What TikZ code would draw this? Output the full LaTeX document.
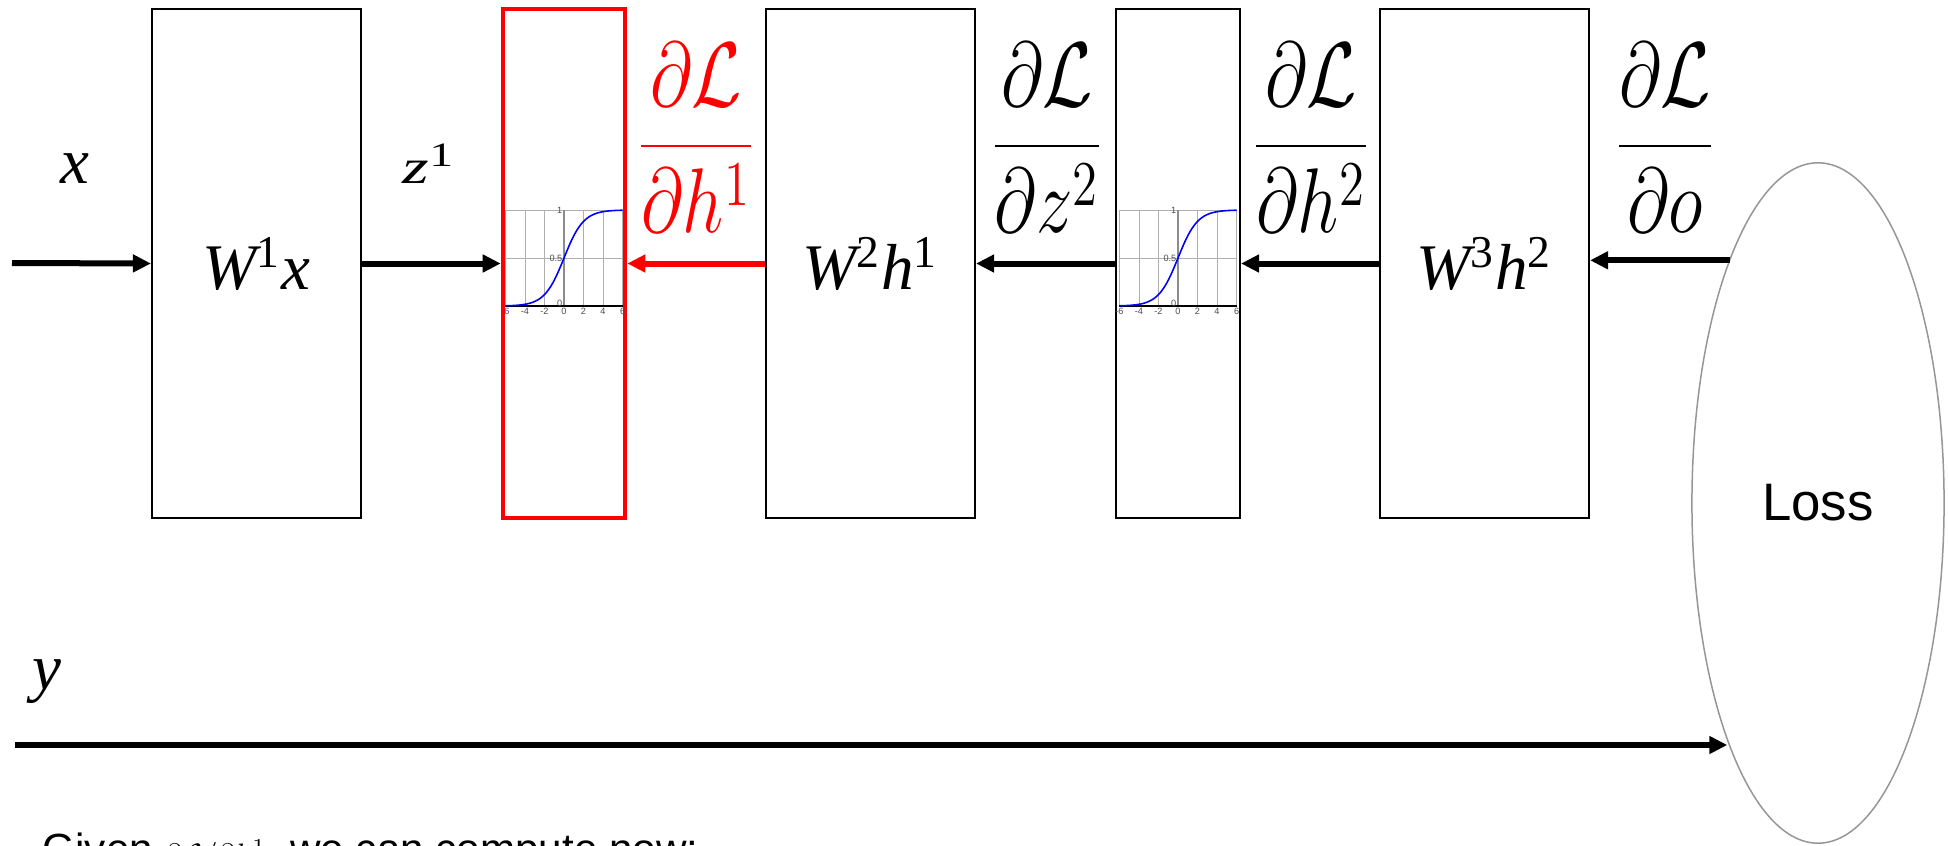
\documentclass[tikz,border=0pt]{standalone}
\usepackage[no-math]{fontspec}
\setmainfont{Liberation Sans}
\newfontfamily\tms{Liberation Serif}
\usepackage{graphicx}
\usetikzlibrary{arrows.meta,shapes.geometric}

\definecolor{gridgray}{RGB}{175,175,175}
\definecolor{axisgray}{RGB}{140,140,140}
\definecolor{lossgray}{RGB}{150,150,150}

% dL/d(#1), stretched upright
\newcommand{\grad}[1]{\scalebox{1}[1.26]{$\displaystyle\frac{\partial\mathcal{L}}{\partial #1}$}}
% layer label in Times italic, upright superscript
\newcommand{\lab}[3]{{\tms\itshape #1\textsuperscript{\upshape #2}#3}}

% small sigmoid chart, origin at (0,0) of the curve axes
\newcommand{\sigplot}[1]{%
  \begin{scope}[shift={(#1.center)},yshift=-0.425cm,x=0.0975cm,y=0.96cm]
    \foreach \gx in {-6,-4,...,6}
      \draw[gridgray,line width=0.2pt] (\gx,0) -- (\gx,1);
    \draw[gridgray,line width=0.2pt] (-6,0.5) -- (6,0.5) (-6,1) -- (6,1);
    \draw[axisgray,line width=0.6pt] (0,0) -- (0,1);
    \draw[black,line width=0.4pt] (-6,0) -- (6,0);
    \draw[blue,line width=0.45pt,domain=-6:6,samples=60,smooth]
      plot (\x,{1/(1+exp(-\x))});
    \foreach \gx in {-6,-4,...,6}
      \node[tick,below] at (\gx,0) {\gx};
    \node[tick,left] at (0,1) {1};
    \node[tick,left] at (0,0.5) {0.5};
    \node[tick,left] at (0,0.03) {0};
  \end{scope}}

\tikzset{
  box/.style={draw,line width=0.02cm,minimum height=5.09cm,inner sep=0pt,
    font=\fontsize{18.5}{20}\selectfont},
  arr/.style={line width=0.06cm,-{Triangle[length=0.18cm,width=0.17cm]}},
  tick/.style={inner sep=0.3pt,text=black!70,font=\fontsize{2.6}{3}\selectfont},
  lbl/.style={anchor=base,inner sep=0pt,font=\fontsize{18.5}{20}\selectfont},
  frac/.style={anchor=base,inner sep=0pt,font=\fontsize{20}{22}\selectfont},
}

\begin{document}
\begin{tikzpicture}[x=0.01cm,y=-0.01cm]
  \useasboundingbox (0,0) rectangle (1948,845);

  % forward layers
  \node[box,minimum width=2.09cm] (w1) at (256.5,263.5) {\lab{W}{1}{x}};
  \node[box,draw=red,line width=0.045cm,minimum width=1.22cm] (sig1) at (564,263.5) {};
  \node[box,minimum width=2.09cm] (w2) at (870.5,263.5) {\lab{W}{2}{h}\textsuperscript{\tms 1}};
  \node[box,minimum width=1.24cm] (sig2) at (1178,263.5) {};
  \node[box,minimum width=2.09cm] (w3) at (1484.5,263.5) {\lab{W}{3}{h}\textsuperscript{\tms 2}};
  \node[ellipse,draw=lossgray,line width=0.015cm,minimum width=2.52cm,minimum height=6.8cm,
    inner sep=0pt,outer sep=0pt,font=\fontsize{15}{18}\selectfont] (loss) at (1818,503) {Loss};

  \sigplot{sig1}
  \sigplot{sig2}

  % connectors
  \coordinate (xin) at (12,263);
  \coordinate (yin) at (15,745);
  \draw[arr] (xin) -- (w1.west);
  \draw[arr] (w1.east) -- (sig1.west);
  \draw[arr,red] (w2.west) -- (sig1.east);
  \draw[arr] (sig2.west) -- (w2.east);
  \draw[arr] (w3.west) -- (sig2.east);
  \draw[arr] (loss.110.2) -- (loss.110.2 -| w3.east);
  \draw[arr] (yin) -- (yin -| loss.249.8);

  % labels
  \node[lbl] (xlab) at (75,183) {\tms\itshape x};
  \node[lbl] (zlab) at (429,183) {\scalebox{1.05}[0.75]{\lab{z}{1}{}}};
  \node[lbl] (ylab) at (47,689) {\tms\itshape y};
  \node[frac,text=red] (gh1) at (696,169) {\grad{h^1}};
  \node[frac] (gz2) at (1047,169) {\grad{z^2}};
  \node[frac] (gh2) at (1311,169) {\grad{h^2}};
  \node[frac] (go) at (1665,169) {\grad{o}};

  \node[anchor=base west,inner sep=0pt,font=\fontsize{12}{14}\selectfont] (note) at (42,863)
    {Given {\fontsize{8}{9}\selectfont$\partial\mathcal{L}/\partial h^1$}, we can compute now:};
\end{tikzpicture}
\end{document}
